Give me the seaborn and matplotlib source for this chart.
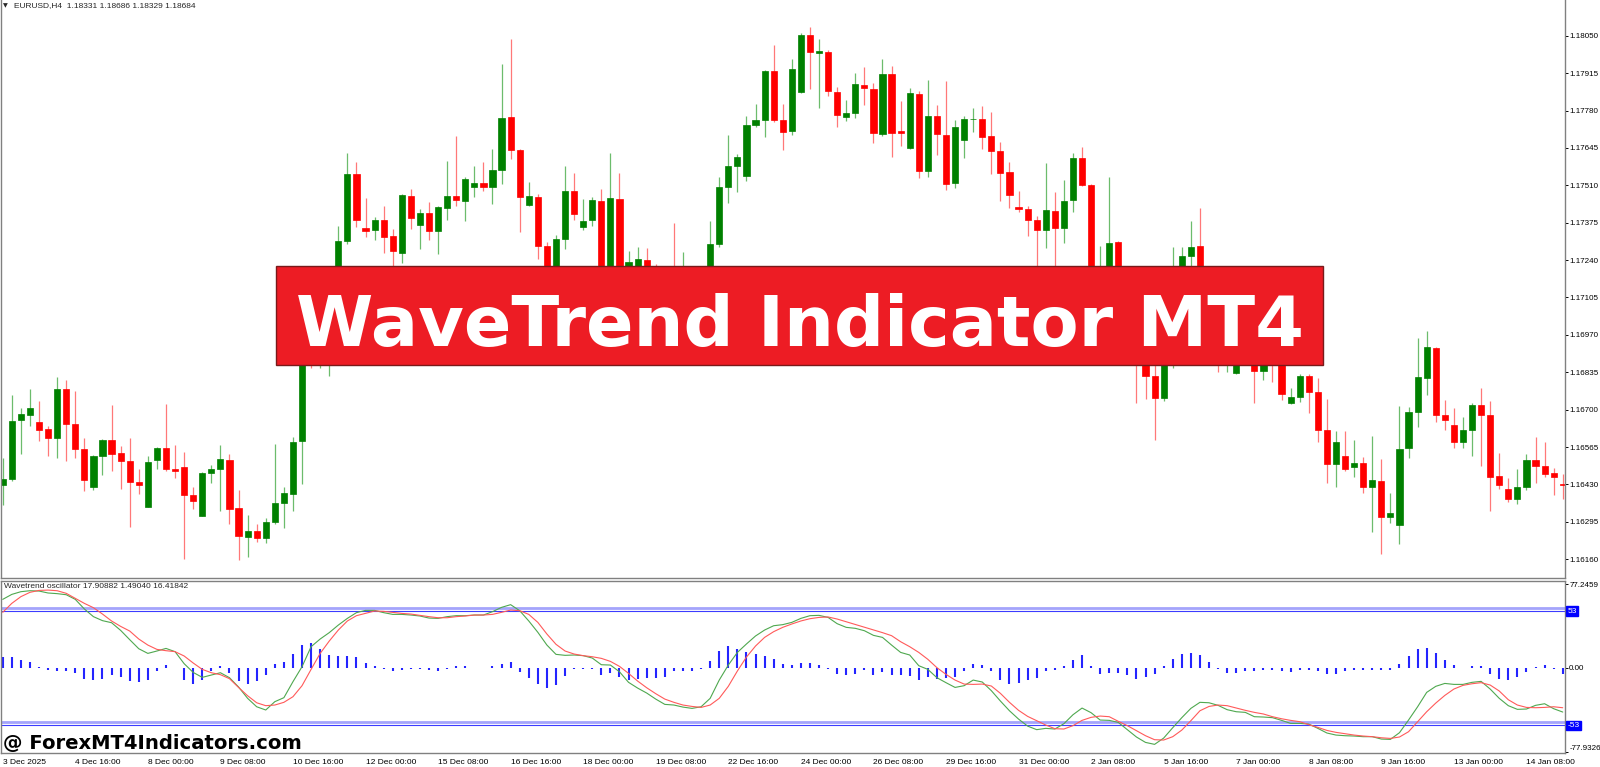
import numpy as np
import matplotlib
matplotlib.use("Agg")
import matplotlib.pyplot as plt
from matplotlib.patches import Rectangle
import seaborn as sns

sns.set_style("white")
plt.rcParams['font.family'] = ['Liberation Sans', 'DejaVu Sans']

# EURUSD H4 candles (bars hidden by the banner are guessed)
opens = [1.16426, 1.16451, 1.16661, 1.16682, 1.16655, 1.16629, 1.16596, 1.16776, 1.16648, 1.16558,
         1.16422, 1.16534, 1.16590, 1.16543, 1.16513, 1.16440, 1.16349, 1.16517, 1.16560, 1.16486,
         1.16491, 1.16391, 1.16317, 1.16472, 1.16485, 1.16518, 1.16343, 1.16240, 1.16263, 1.16236,
         1.16296, 1.16363, 1.16396, 1.16588, 1.16940, 1.16905, 1.16925, 1.17020, 1.17309, 1.17549,
         1.17357, 1.17347, 1.17386, 1.17326, 1.17267, 1.17473, 1.17365, 1.17410, 1.17344, 1.17429,
         1.17472, 1.17454, 1.17504, 1.17519, 1.17503, 1.17566, 1.17755, 1.17637, 1.17439, 1.17469,
         1.17291, 1.17160, 1.17315, 1.17489, 1.17361, 1.17386, 1.17454, 1.17180, 1.17461, 1.17205,
         1.17215, 1.17242, 1.17210, 1.17180, 1.17200, 1.17175, 1.17190, 1.17170, 1.17195, 1.17299,
         1.17502, 1.17579, 1.17545, 1.17728, 1.17746, 1.17923, 1.17745, 1.17707, 1.17846, 1.18051,
         1.17989, 1.17991, 1.17847, 1.17758, 1.17771, 1.17872, 1.17858, 1.17694, 1.17911, 1.17707,
         1.17645, 1.17840, 1.17560, 1.17759, 1.17693, 1.17518, 1.17672, 1.17748, 1.17751, 1.17687,
         1.17633, 1.17559, 1.17432, 1.17423, 1.17383, 1.17350, 1.17417, 1.17356, 1.17458, 1.17607,
         1.17511, 1.17100, 1.17180, 1.17305, 1.17100, 1.16980, 1.16880, 1.16822, 1.16743, 1.16876,
         1.17150, 1.17254, 1.17290, 1.17050, 1.16950, 1.16890, 1.16833, 1.16900, 1.16880, 1.16841,
         1.16890, 1.16860, 1.16723, 1.16746, 1.16820, 1.16764, 1.16625, 1.16502, 1.16534, 1.16491,
         1.16507, 1.16422, 1.16444, 1.16314, 1.16282, 1.16562, 1.16690, 1.16814, 1.16923, 1.16682,
         1.16646, 1.16582, 1.16627, 1.16717, 1.16679, 1.16459, 1.16414, 1.16379, 1.16419, 1.16518,
         1.16497, 1.16470, 1.16433]
highs = [1.16526, 1.16751, 1.16705, 1.16774, 1.16731, 1.16640, 1.16818, 1.16808, 1.16768, 1.16598,
         1.16537, 1.16593, 1.16718, 1.16568, 1.16599, 1.16486, 1.16531, 1.16565, 1.16721, 1.16574,
         1.16548, 1.16420, 1.16475, 1.16500, 1.16571, 1.16541, 1.16411, 1.16319, 1.16288, 1.16308,
         1.16575, 1.16421, 1.16600, 1.16960, 1.16975, 1.16990, 1.17060, 1.17364, 1.17626, 1.17594,
         1.17463, 1.17395, 1.17436, 1.17351, 1.17479, 1.17498, 1.17426, 1.17448, 1.17436, 1.17597,
         1.17688, 1.17541, 1.17579, 1.17594, 1.17641, 1.17948, 1.18039, 1.17640, 1.17523, 1.17479,
         1.17305, 1.17331, 1.17579, 1.17556, 1.17461, 1.17467, 1.17495, 1.17625, 1.17554, 1.17274,
         1.17287, 1.17284, 1.17225, 1.17215, 1.17374, 1.17270, 1.17210, 1.17215, 1.17380, 1.17539,
         1.17693, 1.17622, 1.17759, 1.17805, 1.17927, 1.18017, 1.17804, 1.17967, 1.18060, 1.18080,
         1.18039, 1.17998, 1.17865, 1.17819, 1.17917, 1.17937, 1.17880, 1.17967, 1.17942, 1.17814,
         1.17862, 1.17852, 1.17889, 1.17799, 1.17886, 1.17745, 1.17761, 1.17788, 1.17796, 1.17775,
         1.17668, 1.17594, 1.17489, 1.17436, 1.17398, 1.17591, 1.17485, 1.17529, 1.17627, 1.17650,
         1.17515, 1.17290, 1.17541, 1.17309, 1.17130, 1.17000, 1.16920, 1.16860, 1.16920, 1.17287,
         1.17287, 1.17382, 1.17428, 1.17080, 1.16980, 1.16960, 1.16930, 1.16940, 1.16910, 1.16920,
         1.16920, 1.16880, 1.16779, 1.16827, 1.16829, 1.16814, 1.16737, 1.16624, 1.16624, 1.16590,
         1.16528, 1.16605, 1.16522, 1.16398, 1.16712, 1.16708, 1.16957, 1.16984, 1.16926, 1.16736,
         1.16707, 1.16675, 1.16725, 1.16777, 1.16731, 1.16544, 1.16454, 1.16487, 1.16538, 1.16600,
         1.16584, 1.16490, 1.16466]
lows = [1.16354, 1.16444, 1.16541, 1.16640, 1.16588, 1.16531, 1.16526, 1.16516, 1.16526, 1.16406,
        1.16408, 1.16463, 1.16478, 1.16413, 1.16275, 1.16394, 1.16347, 1.16485, 1.16477, 1.16454,
        1.16161, 1.16342, 1.16316, 1.16435, 1.16333, 1.16288, 1.16158, 1.16168, 1.16221, 1.16217,
        1.16286, 1.16272, 1.16335, 1.16431, 1.16850, 1.16850, 1.16821, 1.16990, 1.17299, 1.17361,
        1.17324, 1.17311, 1.17265, 1.17200, 1.17231, 1.17351, 1.17280, 1.17311, 1.17262, 1.17386,
        1.17436, 1.17380, 1.17467, 1.17489, 1.17442, 1.17513, 1.17606, 1.17342, 1.17436, 1.17245,
        1.17120, 1.17130, 1.17280, 1.17383, 1.17349, 1.17364, 1.17150, 1.17160, 1.17170, 1.17180,
        1.17190, 1.17180, 1.17150, 1.17160, 1.17140, 1.17150, 1.17140, 1.17155, 1.17180, 1.17287,
        1.17446, 1.17485, 1.17525, 1.17722, 1.17684, 1.17740, 1.17637, 1.17691, 1.17843, 1.17858,
        1.17790, 1.17834, 1.17722, 1.17743, 1.17753, 1.17799, 1.17662, 1.17687, 1.17612, 1.17653,
        1.17641, 1.17535, 1.17541, 1.17620, 1.17492, 1.17500, 1.17610, 1.17703, 1.17641, 1.17550,
        1.17452, 1.17429, 1.17415, 1.17328, 1.17200, 1.17283, 1.17190, 1.17301, 1.17415, 1.17508,
        1.17050, 1.17060, 1.17150, 1.17060, 1.16950, 1.16723, 1.16739, 1.16590, 1.16731, 1.16850,
        1.17120, 1.17218, 1.17000, 1.16920, 1.16836, 1.16836, 1.16830, 1.16860, 1.16725, 1.16808,
        1.16798, 1.16733, 1.16721, 1.16727, 1.16686, 1.16582, 1.16435, 1.16422, 1.16478, 1.16456,
        1.16398, 1.16257, 1.16178, 1.16292, 1.16215, 1.16526, 1.16638, 1.16752, 1.16657, 1.16627,
        1.16562, 1.16563, 1.16534, 1.16496, 1.16335, 1.16414, 1.16366, 1.16358, 1.16408, 1.16435,
        1.16457, 1.16390, 1.16377]
closes = [1.16450, 1.16658, 1.16683, 1.16707, 1.16627, 1.16596, 1.16773, 1.16649, 1.16559, 1.16447,
          1.16531, 1.16590, 1.16539, 1.16516, 1.16440, 1.16429, 1.16512, 1.16560, 1.16486, 1.16480,
          1.16390, 1.16369, 1.16472, 1.16485, 1.16521, 1.16342, 1.16242, 1.16263, 1.16236, 1.16294,
          1.16364, 1.16399, 1.16584, 1.16940, 1.16905, 1.16930, 1.17020, 1.17309, 1.17551, 1.17386,
          1.17346, 1.17386, 1.17324, 1.17272, 1.17475, 1.17392, 1.17411, 1.17344, 1.17431, 1.17473,
          1.17456, 1.17533, 1.17519, 1.17504, 1.17564, 1.17753, 1.17637, 1.17466, 1.17470, 1.17290,
          1.17150, 1.17315, 1.17489, 1.17405, 1.17382, 1.17457, 1.17180, 1.17464, 1.17200, 1.17234,
          1.17244, 1.17210, 1.17180, 1.17200, 1.17175, 1.17190, 1.17170, 1.17195, 1.17299, 1.17503,
          1.17579, 1.17613, 1.17728, 1.17746, 1.17921, 1.17744, 1.17704, 1.17929, 1.18051, 1.17990,
          1.17994, 1.17850, 1.17764, 1.17771, 1.17875, 1.17861, 1.17700, 1.17911, 1.17700, 1.17700,
          1.17842, 1.17560, 1.17761, 1.17694, 1.17515, 1.17719, 1.17750, 1.17751, 1.17684, 1.17632,
          1.17556, 1.17475, 1.17423, 1.17386, 1.17349, 1.17420, 1.17355, 1.17454, 1.17610, 1.17510,
          1.17100, 1.17180, 1.17303, 1.17100, 1.16980, 1.16900, 1.16823, 1.16743, 1.16876, 1.17150,
          1.17254, 1.17288, 1.17050, 1.16950, 1.16890, 1.16920, 1.16900, 1.16880, 1.16841, 1.16890,
          1.16860, 1.16756, 1.16744, 1.16820, 1.16762, 1.16627, 1.16503, 1.16584, 1.16487, 1.16509,
          1.16422, 1.16447, 1.16314, 1.16327, 1.16558, 1.16690, 1.16817, 1.16925, 1.16682, 1.16661,
          1.16582, 1.16627, 1.16717, 1.16680, 1.16457, 1.16429, 1.16379, 1.16421, 1.16518, 1.16497,
          1.16466, 1.16457, 1.16426]

# Wavetrend oscillator: green line, red line, blue histogram
wt1 = [63.1, 67.7, 70.2, 71.1, 70.8, 69.0, 68.4, 67.4, 63.1, 54.2, 47.1, 43.4, 41.5, 34.4, 25.8,
       17.4, 13.1, 15.3, 17.7, 14.7, 3.6, -4.5, -9.1, -6.9, -4.8, -9.4, -18.0, -28.5, -36.3, -39.3,
       -31.6, -27.9, -13.1, 0.8, 19.3, 26.4, 32.3, 39.3, 45.5, 50.8, 52.9, 52.9, 50.8, 49.2, 49.2,
       48.6, 47.7, 45.8, 45.5, 47.1, 48.0, 48.0, 48.6, 48.6, 51.7, 55.7, 58.2, 52.6, 43.1, 32.6,
       20.8, 12.2, 11.3, 11.6, 11.0, 8.8, 2.6, 2.3, -3.9, -13.7, -19.0, -23.6, -29.2, -34.1, -34.7,
       -36.6, -37.8, -36.3, -28.5, -11.6, 2.3, 14.0, 21.8, 29.2, 34.7, 38.7, 39.7, 41.8, 45.5, 48.0,
       48.3, 46.4, 40.6, 37.2, 36.3, 34.1, 29.8, 27.9, 20.8, 14.0, 11.6, 1.7, -1.7, -9.4, -14.0,
       -18.4, -16.8, -11.6, -13.4, -21.4, -31.0, -40.0, -47.7, -54.2, -57.5, -56.3, -56.9, -52.0, -43.7, -37.5,
       -41.8, -48.6, -48.9, -50.8, -57.5, -64.3, -69.3, -71.1, -65.3, -55.7, -46.4, -37.8, -32.2, -32.6, -35.0,
       -39.0, -40.9, -41.5, -45.5, -45.8, -46.4, -48.9, -51.7, -51.7, -52.3, -56.3, -60.6, -62.5, -63.1, -63.4,
       -64.0, -64.0, -66.2, -66.5, -60.3, -48.6, -36.3, -23.0, -17.4, -14.7, -15.6, -15.6, -13.7, -12.8, -19.9,
       -28.5, -35.3, -38.7, -38.4, -35.0, -33.5, -38.1, -41.2]
wt2 = [51.1, 59.4, 65.6, 69.6, 71.4, 71.7, 71.1, 68.7, 64.0, 59.4, 55.4, 49.5, 43.1, 38.1, 33.8,
       26.4, 20.8, 16.8, 15.6, 14.7, 10.7, 4.2, -1.7, -4.8, -6.6, -10.3, -18.4, -26.1, -32.6, -35.3,
       -34.7, -32.2, -27.0, -16.8, -1.7, 13.1, 24.5, 34.7, 43.1, 48.0, 50.1, 52.3, 52.0, 51.1, 50.1,
       49.5, 48.3, 47.1, 46.1, 46.1, 47.1, 47.7, 48.6, 48.6, 49.2, 51.1, 53.2, 52.6, 49.2, 41.8,
       31.0, 21.5, 15.3, 12.5, 11.0, 10.0, 8.5, 5.7, 1.1, -5.4, -12.5, -18.7, -24.2, -29.2, -32.2,
       -34.7, -36.0, -36.9, -34.7, -28.5, -17.4, -3.2, 9.7, 19.9, 27.9, 33.2, 37.2, 40.3, 43.1, 45.2,
       46.4, 46.8, 44.9, 42.4, 40.0, 37.5, 35.0, 32.3, 29.5, 23.9, 19.3, 14.0, 7.6, -0.1, -6.3,
       -11.6, -15.3, -15.6, -15.3, -17.1, -23.9, -32.2, -39.6, -45.2, -49.2, -53.2, -56.6, -56.9, -53.8, -48.9,
       -46.1, -44.9, -45.5, -49.8, -53.8, -58.5, -63.1, -66.8, -67.1, -64.0, -57.9, -49.2, -40.0, -36.0, -34.7,
       -35.3, -37.5, -39.6, -41.5, -43.0, -45.5, -47.4, -48.9, -50.1, -52.9, -55.4, -58.2, -60.0, -61.3, -62.5,
       -63.4, -64.0, -65.0, -65.6, -64.3, -59.4, -50.1, -40.9, -32.9, -25.8, -19.9, -16.5, -15.0, -14.0, -16.2,
       -21.7, -29.8, -34.7, -36.9, -37.2, -36.9, -36.3, -37.2]
hist = [9.9, 9.3, 7.4, 5.2, 0.6, -2.5, -3.1, -3.1, -4.9, -10.8, -11.7, -10.2, -7.1, -8.6, -12.7,
        -13.3, -11.1, -3.4, 2.2, -0.3, -11.1, -14.8, -11.1, -3.1, 1.5, -4.6, -12.7, -15.4, -12.3, -7.1,
        3.1, 5.2, 12.3, 20.7, 23.1, 17.6, 11.4, 10.5, 10.5, 9.3, 4.3, 1.2, -1.2, -3.4, -1.9,
        -0.9, -1.2, -1.9, -3.1, -0.9, 1.5, 1.2, -0.6, -0.6, 1.5, 3.7, 5.2, -4.0, -9.6, -14.8,
        -18.5, -16.4, -7.4, -1.2, -0.9, -0.9, -7.1, -4.9, -8.6, -11.1, -10.8, -9.6, -9.6, -8.6, -3.4,
        -3.1, -3.1, -0.9, 5.9, 15.4, 20.1, 17.6, 14.5, 12.3, 10.5, 8.0, 3.1, 2.5, 4.3, 4.3,
        1.9, -0.9, -6.2, -7.1, -5.6, -2.5, -7.1, -4.0, -7.1, -7.1, -7.4, -11.7, -8.6, -10.5, -9.6,
        -8.6, -3.1, 3.1, 2.8, -3.1, -11.7, -14.8, -14.2, -11.1, -9.9, -3.5, -2.5, 1.2, 7.4, 11.4,
        1.5, -6.2, -4.9, -4.9, -7.1, -10.2, -8.6, -6.2, 1.5, 8.3, 12.3, 13.6, 11.4, 5.2, -0.9,
        -4.9, -4.9, -3.4, -3.4, -2.5, -2.5, -3.4, -4.3, -2.5, -1.9, -3.4, -5.6, -5.6, -3.4, -2.5,
        -1.9, -1.9, -2.5, -1.9, 3.1, 10.5, 16.7, 18.5, 13.6, 7.4, 1.9, 0.0, 1.2, 1.2, -5.6,
        -10.2, -11.7, -8.6, -4.0, 0.6, 2.8, -1.5, -5.6]

price_ticks = [1.16160, 1.16295, 1.16430, 1.16565, 1.16700, 1.16835, 1.16970, 1.17105,
               1.17240, 1.17375, 1.17510, 1.17645, 1.17780, 1.17915, 1.18050]
osc_ticks = [77.2459, 0.0, -77.9326]
osc_tick_labels = ["77.2459", "0.00", "-77.9326"]
date_labels = ["3 Dec 2025", "4 Dec 16:00", "8 Dec 00:00", "9 Dec 08:00", "10 Dec 16:00",
               "12 Dec 00:00", "15 Dec 08:00", "16 Dec 16:00", "18 Dec 00:00", "19 Dec 08:00",
               "22 Dec 16:00", "24 Dec 00:00", "26 Dec 08:00", "29 Dec 16:00", "31 Dec 00:00",
               "2 Jan 08:00", "5 Jan 16:00", "7 Jan 00:00", "8 Jan 08:00", "9 Jan 16:00",
               "13 Jan 00:00", "14 Jan 08:00"]
date_bars = list(range(0, 169, 8))
thick_levels = [55.4, -50.2]
thin_levels = [52.3, -53.5]

W, H = 1600, 767
def box(x0, y0, x1, y1):
    return [x0 / W, 1 - y1 / H, (x1 - x0) / W, (y1 - y0) / H]

fig = plt.figure(figsize=(16, 7.67), dpi=100, facecolor='white')
ax = fig.add_axes(box(1, 0, 1565, 578))
ax2 = fig.add_axes(box(1, 581, 1565, 753))

bars = np.arange(len(opens))
o = np.array(opens)
c = np.array(closes)
up = c >= o
body_col = np.where(up, '#008000', '#ff0000')
wick_col = np.where(up, '#6cbc6c', '#ff7878')

ax.vlines(bars, lows, highs, colors=wick_col, linewidth=0.9, zorder=1)
ax.bar(bars, np.abs(c - o), bottom=np.minimum(o, c), width=0.68, color=body_col,
       edgecolor=body_col, linewidth=0.5, zorder=2)

xlim = (-0.19, 172.25)
ax.set_xlim(*xlim)
ax.set_ylim(1.16092, 1.18179)
ax.yaxis.tick_right()
ax.set_yticks(price_ticks)
ax.set_yticklabels([f"{t:.5f}" for t in price_ticks])
ax.set_xticks([])
ax.tick_params(axis='y', length=2, width=0.7, pad=1, labelsize=5.8, colors='black')

# oscillator panel
for lv in thick_levels:
    ax2.axhline(lv, color='#a4a4fb', linewidth=2.0, zorder=1)
for lv in thin_levels:
    ax2.axhline(lv, color='#3c3cff', linewidth=0.8, zorder=1)
ax2.vlines(bars, 0, hist, colors='#2424ff', linewidth=1.5, zorder=2)
sns.lineplot(x=bars, y=wt1, ax=ax2, color='#4fa84f', linewidth=0.8, zorder=3)
sns.lineplot(x=bars, y=wt2, ax=ax2, color='#ff5a5a', linewidth=0.8, zorder=4)

ax2.set_xlim(*xlim)
ax2.set_ylim(-79.1, 80.1)
ax2.yaxis.tick_right()
ax2.set_yticks(osc_ticks)
ax2.set_yticklabels(osc_tick_labels)
ax2.set_xticks(date_bars)
ax2.set_xticklabels(date_labels)
for lab in ax2.get_xticklabels():
    lab.set_ha('left')
ax2.get_yticklabels()[2].set_va('bottom')
ax2.tick_params(axis='y', length=2, width=0.7, pad=1, labelsize=5.8, colors='black')
ax2.tick_params(axis='x', length=3, width=0.7, pad=1, labelsize=6, colors='black')
ax2.set_xlabel('')
ax2.set_ylabel('')

for a in (ax, ax2):
    for side in ('left', 'right', 'bottom', 'top'):
        a.spines[side].set_color('#808080')
        a.spines[side].set_linewidth(1.0)
ax.spines['top'].set_visible(False)

tr = ax2.get_yaxis_transform()
ax2.text(1.0015, thin_levels[0], "53", transform=tr, ha='left', va='center', fontsize=6,
         color='white', bbox=dict(boxstyle='square,pad=0.15', fc='#0000ff', ec='#0000ff'))
ax2.text(1.0015, thin_levels[1], "-53", transform=tr, ha='left', va='center', fontsize=6,
         color='white', bbox=dict(boxstyle='square,pad=0.15', fc='#0000ff', ec='#0000ff'))

# header texts
fig.text(3 / W, 1 - 6 / H, "\u25bc", fontsize=4.5, va='center', ha='left', family='DejaVu Sans')
fig.text(14 / W, 1 - 6 / H, "EURUSD,H4  1.18331 1.18686 1.18329 1.18684", fontsize=6,
         va='center', ha='left')
fig.text(4 / W, 1 - 587 / H, "Wavetrend oscillator 17.90882 1.49040 16.41842", fontsize=6,
         va='center', ha='left')

# banner
fig.patches.append(Rectangle((276 / W, 1 - 365 / H), 1047 / W, 99 / H, transform=fig.transFigure,
                             facecolor='#ed1c24', edgecolor='#7a1a1a', linewidth=1.0, zorder=5))
banner = fig.text(799.5 / W, 1 - 346 / H, "WaveTrend Indicator MT4", fontsize=50, fontweight='bold',
                  family='DejaVu Sans', color='white', ha='center', va='baseline', zorder=6)
mark = fig.text(3 / W, 1 - 749 / H, "@ ForexMT4Indicators.com", fontsize=14, fontweight='bold',
                family='DejaVu Sans', color='black', ha='left', va='baseline', zorder=6)

renderer = fig.canvas.get_renderer()
for t, target in ((banner, 1009), (mark, 300)):
    w = t.get_window_extent(renderer).width
    t.set_fontsize(t.get_fontsize() * target / w)

fig.savefig("out.png", dpi=100, facecolor='white')
